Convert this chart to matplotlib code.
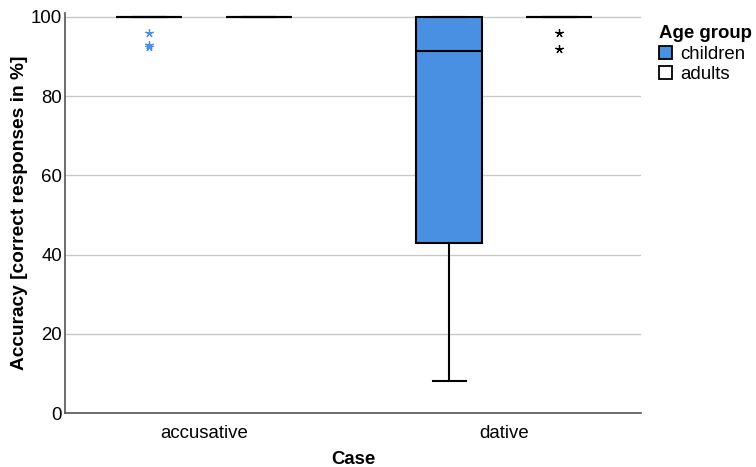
import matplotlib
matplotlib.use("Agg")
import matplotlib.pyplot as plt
from matplotlib.patches import Patch

plt.rcParams['font.family'] = ['Liberation Sans', 'DejaVu Sans']

cases = ["accusative", "dative"]
groups = ["children", "adults"]
colors = {"children": "#4a90e2", "adults": "#ffffff"}
flier_colors = {"children": "#4a90e2", "adults": "#000000"}

# box stats per case, per group: (whislo, q1, med, q3, whishi, fliers)
stats_data = {
    ("accusative", "children"): (100, 100, 100, 100, 100, [96, 93, 92.3]),
    ("accusative", "adults"):   (100, 100, 100, 100, 100, []),
    ("dative", "children"):     (8, 43, 91.5, 100, 100, []),
    ("dative", "adults"):       (100, 100, 100, 100, 100, [96, 92]),
}

FS = 13.4

fig = plt.figure(figsize=(7.56, 4.67), dpi=100)
ax = fig.add_axes([65/756, 1-413/467, 576/756, 400/467])

offset = 0.183
width = 0.22
for ci, case in enumerate(cases):
    for gi, grp in enumerate(groups):
        lo, q1, med, q3, hi, fl = stats_data[(case, grp)]
        pos = ci + (-offset if gi == 0 else offset)
        st = [dict(whislo=lo, q1=q1, med=med, q3=q3, whishi=hi, fliers=fl)]
        ax.bxp(st, positions=[pos], widths=width, patch_artist=True,
               showfliers=False,
               boxprops=dict(facecolor=colors[grp], edgecolor='black', linewidth=1.5),
               medianprops=dict(color='black', linewidth=1.5),
               whiskerprops=dict(color='black', linewidth=1.5),
               capprops=dict(color='black', linewidth=1.5),
               capwidths=width/2, manage_ticks=False)
        if fl:
            ax.plot([pos]*len(fl), fl, linestyle='none', marker=(5, 2, 0),
                    markersize=6, color=flier_colors[grp], markeredgewidth=0.9)

ax.set_xlim(-0.463, 1.456)
ax.set_ylim(0, 101)
ax.set_yticks([0, 20, 40, 60, 80, 100])
ax.set_xticks([0, 1])
ax.set_xticklabels(cases)
ax.tick_params(axis='both', length=0, labelsize=FS, colors='black')
ax.tick_params(axis='y', pad=2)
ax.tick_params(axis='x', pad=9)
ax.yaxis.grid(True, color='#c8c8c8', linewidth=1)
ax.set_axisbelow(True)
for s in ['top', 'right']:
    ax.spines[s].set_visible(False)
for s in ['left', 'bottom']:
    ax.spines[s].set_color('#555555')
    ax.spines[s].set_linewidth(1.2)

ax.set_xlabel("Case", fontsize=FS, fontweight='bold', labelpad=6)
ax.set_ylabel("Accuracy [correct responses in %]", fontsize=13.8, fontweight='bold', labelpad=2)

handles = [Patch(facecolor=colors[g], edgecolor='black', linewidth=1.3, label=g) for g in groups]
leg = fig.legend(handles=handles, title="Age group", loc='upper left',
                 bbox_to_anchor=(659/756, 1-25/467), frameon=False, fontsize=FS,
                 title_fontproperties=dict(weight='bold', size=FS),
                 handlelength=0.72, handleheight=0.72, handletextpad=0.4,
                 labelspacing=0.19, borderpad=0, borderaxespad=0, alignment='left')

fig.savefig("out.png", dpi=100)
